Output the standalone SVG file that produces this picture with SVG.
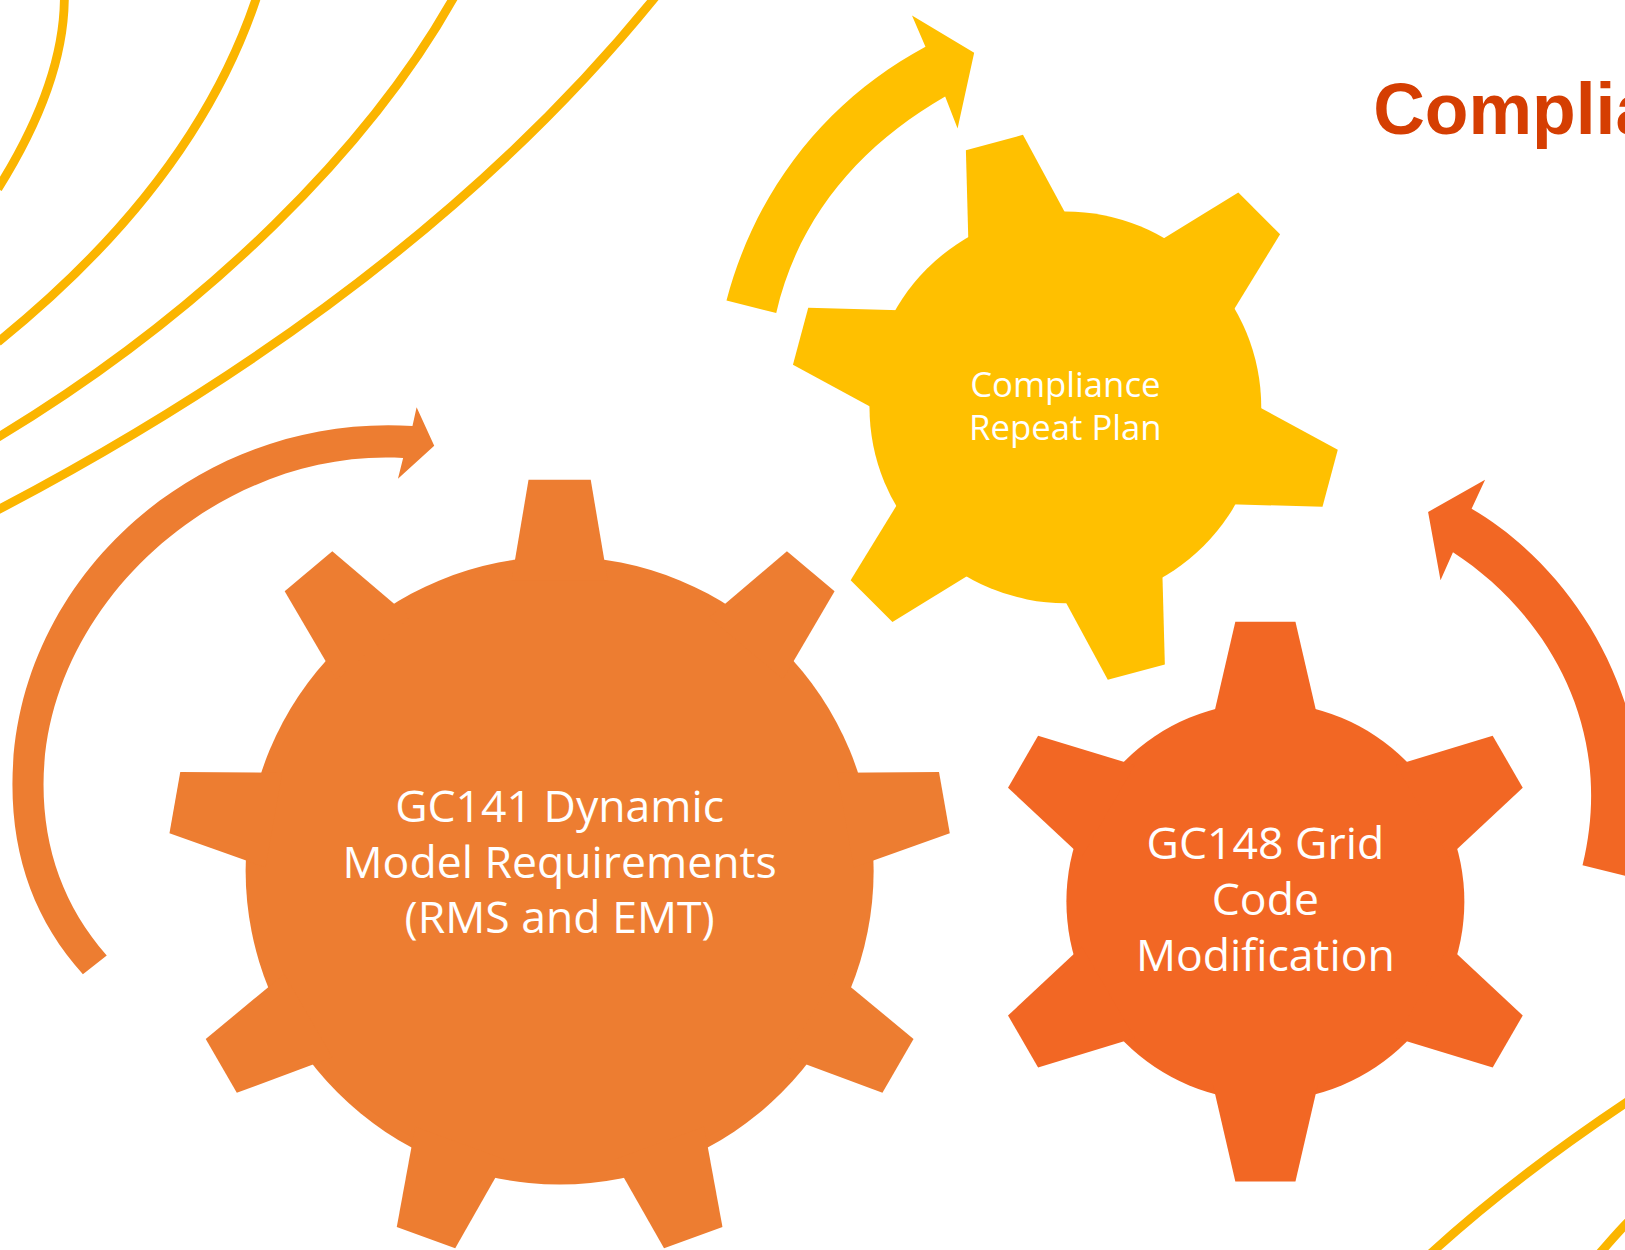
<svg xmlns="http://www.w3.org/2000/svg" width="1625" height="1250" viewBox="0 0 1625 1250">
<style>
.bg{fill:none;stroke:#FBB500;stroke-width:8.5}
.lbl{font-family:"Open Sans","Noto Sans",sans-serif;fill:#FFFFFF;text-anchor:middle}
.title{font-family:"Liberation Sans",Arial,sans-serif;font-weight:bold;fill:#D53E02}
</style>
<defs>
<polygon id="toothA" points="-30,-377 30,-377 46.4,-280 -46.4,-280"/>
<polygon id="toothB" points="-28.5,-264.5 28.5,-264.5 51.1,-170 -51.1,-170"/>
<polygon id="toothC" points="-29,-270 29,-270 51,-175 -51,-175"/>
</defs>
<rect width="1625" height="1250" fill="#FFFFFF"/>
<g transform="scale(1.03635)">
<g id="background-lines">
<path class="bg" d="M62,-10 C64,50 40,115 -2,182"/>
<path class="bg" d="M250,-10 C212,110 128,225 -2,330"/>
<path class="bg" d="M442,-10 C360,140 200,300 -2,422"/>
<path class="bg" d="M638,-10 C470,200 240,365 -2,492"/>
<path class="bg" d="M1380,1210 C1440,1155 1500,1110 1572,1062"/>
<path class="bg" d="M1543,1210 C1552,1200 1560,1190 1572,1178"/>
</g>
<text class="title" x="1325" y="129" font-size="69">Complia</text>
<g id="connectors">
<path id="arrow-yellow" fill="#FFC000" d="M701,290 C730,180 800,95 893,45 L880,15 L940,51 L924,124 L912,93 C830,140 770,210 749,302 Z"/>
<path id="arrow-left" fill="#ED7D31" d="M80,940 C35,890 12,830 12,757 C12,560 190,398 398,411 L402,393 L419,430 L384,462 L389,442 C210,432 42,585 42,757 C42,820 62,875 103,922 Z"/>
<path id="arrow-right" fill="#F26724" d="M1420,491 L1433,463 L1378,494 L1390,560 L1402,533 C1490,590 1560,700 1527,835 L1576,847 C1610,700 1530,555 1420,491 Z"/>
</g>
<g id="gear-gc141" fill="#ED7D31">
<circle cx="540" cy="840" r="303"/>
<use href="#toothA" transform="translate(540,840) rotate(0)"/>
<use href="#toothA" transform="translate(540,840) rotate(40)"/>
<use href="#toothA" transform="translate(540,840) rotate(80)"/>
<use href="#toothA" transform="translate(540,840) rotate(120)"/>
<use href="#toothA" transform="translate(540,840) rotate(160)"/>
<use href="#toothA" transform="translate(540,840) rotate(200)"/>
<use href="#toothA" transform="translate(540,840) rotate(240)"/>
<use href="#toothA" transform="translate(540,840) rotate(280)"/>
<use href="#toothA" transform="translate(540,840) rotate(320)"/>
<text class="lbl" x="540" y="793" font-size="43">GC141 Dynamic</text>
<text class="lbl" x="540" y="847" font-size="43">Model Requirements</text>
<text class="lbl" x="540" y="900" font-size="43">(RMS and EMT)</text>
</g>
<g id="gear-compliance" fill="#FFC000">
<circle cx="1028" cy="393" r="189"/>
<use href="#toothB" transform="translate(1028,393) rotate(-15)"/>
<use href="#toothB" transform="translate(1028,393) rotate(45)"/>
<use href="#toothB" transform="translate(1028,393) rotate(105)"/>
<use href="#toothB" transform="translate(1028,393) rotate(165)"/>
<use href="#toothB" transform="translate(1028,393) rotate(225)"/>
<use href="#toothB" transform="translate(1028,393) rotate(285)"/>
<text class="lbl" x="1028" y="383" font-size="33.5">Compliance</text>
<text class="lbl" x="1028" y="425" font-size="33.5">Repeat Plan</text>
</g>
<g id="gear-gc148" fill="#F26724">
<circle cx="1221" cy="870" r="192"/>
<use href="#toothC" transform="translate(1221,870) rotate(0)"/>
<use href="#toothC" transform="translate(1221,870) rotate(60)"/>
<use href="#toothC" transform="translate(1221,870) rotate(120)"/>
<use href="#toothC" transform="translate(1221,870) rotate(180)"/>
<use href="#toothC" transform="translate(1221,870) rotate(240)"/>
<use href="#toothC" transform="translate(1221,870) rotate(300)"/>
<text class="lbl" x="1221" y="829" font-size="43">GC148 Grid</text>
<text class="lbl" x="1221" y="883" font-size="43">Code</text>
<text class="lbl" x="1221" y="937" font-size="43">Modification</text>
</g>
</g>
</svg>
